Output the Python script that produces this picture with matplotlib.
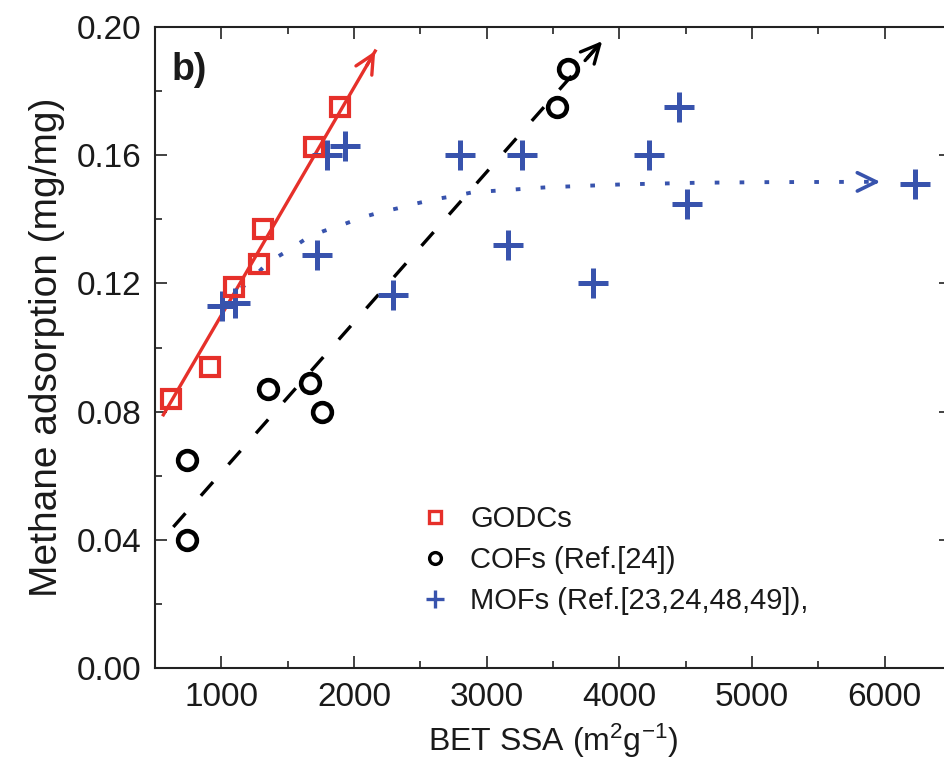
import matplotlib.pyplot as plt
from matplotlib.lines import Line2D
from matplotlib.ticker import MultipleLocator

plt.rcParams['font.family'] = ['Liberation Sans', 'DejaVu Sans']
plt.rcParams['mathtext.fontset'] = 'custom'
plt.rcParams['mathtext.rm'] = 'Liberation Sans'
plt.rcParams['mathtext.default'] = 'regular'

RED = '#e6302a'
BLUE = '#3853ad'

# GODCs
godc_ssa = [623, 917, 1098, 1286, 1316, 1701, 1897]
godc_ch4 = [0.084, 0.094, 0.119, 0.126, 0.137, 0.1625, 0.175]
godc_fit_ssa = [563, 2160]
godc_fit_ch4 = [0.079, 0.1925]

# COFs
cof_ssa = [744, 744, 1354, 1671, 1761, 3532, 3615]
cof_ch4 = [0.065, 0.040, 0.087, 0.089, 0.080, 0.175, 0.187]
cof_fit_ssa = [638, 3871]
cof_fit_ch4 = [0.044, 0.1956]

# MOFs
mof_ssa = [1008, 1105, 1723, 1799, 1934, 2296, 2801, 3268, 3163, 3803,
           4225, 4451, 4512, 6230]
mof_ch4 = [0.113, 0.114, 0.129, 0.160, 0.163, 0.1165, 0.160, 0.160, 0.132,
           0.120, 0.160, 0.175, 0.1447, 0.151]
mof_trend_ssa = [1150, 1218, 1354, 1505, 1633, 1769, 1919, 2063, 2198, 2326,
                 2477, 2613, 2748, 2891, 3027, 3457, 4029, 4587, 5137, 5966]
mof_trend_ch4 = [0.1185, 0.1209, 0.1266, 0.1303, 0.1338, 0.1363, 0.1384,
                 0.1406, 0.1422, 0.1434, 0.1450, 0.1463, 0.1472, 0.1484,
                 0.1488, 0.1500, 0.1509, 0.1514, 0.1516, 0.1517]

legend_labels = ['GODCs', 'COFs (Ref.[24])', 'MOFs (Ref.[23,24,48,49]),']


def arrow_tip(ax, xs, ys, color, frac=0.04, lw=2.4):
    # open arrow head at the last point, pointing along the last segment
    x0, y0, x1, y1 = xs[-2], ys[-2], xs[-1], ys[-1]
    back = (x1 - frac * (x1 - x0), y1 - frac * (y1 - y0))
    ax.annotate('', xy=(x1, y1), xytext=back,
                arrowprops=dict(arrowstyle='->,head_length=0.45,head_width=0.22',
                                color=color, lw=lw, mutation_scale=30,
                                shrinkA=0, shrinkB=0))


fig = plt.figure(figsize=(9.45, 7.7), dpi=100)
ax = fig.add_axes([155 / 945, 102 / 770, 796 / 945, 641 / 770])

# trend lines
ax.plot(godc_fit_ssa, godc_fit_ch4, color=RED, lw=2.4, zorder=2)
arrow_tip(ax, godc_fit_ssa, godc_fit_ch4, RED)
ax.plot(cof_fit_ssa, cof_fit_ch4, color='black', lw=2.4,
        linestyle=(0, (5.5, 7.0)), zorder=2)
arrow_tip(ax, cof_fit_ssa, cof_fit_ch4, 'black')
ax.plot(mof_trend_ssa, mof_trend_ch4, color=BLUE, lw=2.8,
        linestyle=(0, (1.2, 5.2)), zorder=2)
arrow_tip(ax, mof_trend_ssa, mof_trend_ch4, BLUE, frac=0.05, lw=2.6)

# data points
ax.plot(mof_ssa, mof_ch4, linestyle='none', marker='+', ms=21, mew=3.6,
        color=BLUE, zorder=3)
ax.plot(cof_ssa, cof_ch4, linestyle='none', marker='o', ms=13.5, mew=3.3,
        mfc='none', mec='black', zorder=3)
ax.plot(godc_ssa, godc_ch4, linestyle='none', marker='s', ms=13, mew=3.0,
        mfc='none', mec=RED, zorder=4)

ax.set_xlim(500, 6500)
ax.set_ylim(0, 0.20)
ax.xaxis.set_major_locator(MultipleLocator(1000))
ax.xaxis.set_minor_locator(MultipleLocator(500))
ax.yaxis.set_major_locator(MultipleLocator(0.04))
ax.yaxis.set_minor_locator(MultipleLocator(0.02))
ax.set_xticks([1000, 2000, 3000, 4000, 5000, 6000])
ax.yaxis.set_major_formatter(plt.FormatStrFormatter('%.2f'))

ax.tick_params(which='both', direction='in', top=True, right=True,
               colors='#222222', labelcolor='#1a1a1a')
ax.tick_params(which='major', length=8.5, width=1.2, labelsize=24, pad=10)
ax.tick_params(which='minor', length=5, width=1.2)
for sp in ax.spines.values():
    sp.set_linewidth(1.5)
    sp.set_color('#222222')

ax.set_xlabel('BET SSA (m$^2$g$^{-1}$)', fontsize=23, color='#1a1a1a',
              labelpad=6)
ax.set_ylabel('Methane adsorption (mg/mg)', fontsize=28, color='#1a1a1a',
              labelpad=8)

ax.text(0.021, 0.917, 'b)', transform=ax.transAxes, fontsize=27,
        fontweight='bold', color='#1a1a1a', va='baseline')

handles = [
    Line2D([], [], linestyle='none', marker='s', ms=9, mew=2.4,
           mfc='none', mec=RED),
    Line2D([], [], linestyle='none', marker='o', ms=8.5, mew=2.4,
           mfc='none', mec='black'),
    Line2D([], [], linestyle='none', marker='+', ms=13, mew=2.4,
           color=BLUE),
]
ax.legend(handles, legend_labels, loc='upper left',
          bbox_to_anchor=(0.334, 0.254), frameon=False, fontsize=21,
          handlelength=0.95, handletextpad=0.75, labelspacing=0.45,
          borderpad=0, borderaxespad=0, labelcolor='#1a1a1a')

fig.savefig('out.png', dpi=100)
